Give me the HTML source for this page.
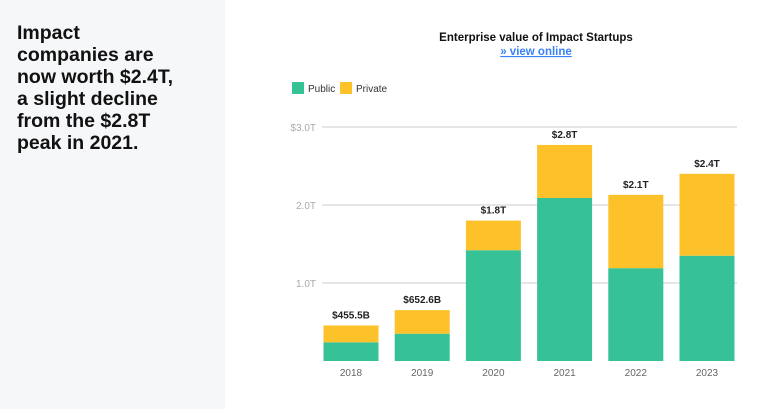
<!DOCTYPE html>
<html><head><meta charset="utf-8"><style>
body{margin:0;width:777px;height:409px;background:#fff;font-family:"Liberation Sans",sans-serif;overflow:hidden;position:relative}
#side{position:absolute;left:0;top:0;width:225px;height:409px;background:#f6f7f9}
#side h1{margin:0;position:absolute;left:17px;top:22px;font-size:19.5px;line-height:22px;font-weight:bold;color:#111;width:205px;white-space:nowrap}
</style></head><body>
<div id="side"><h1>Impact<br>companies are<br>now worth $2.4T,<br>a slight decline<br>from the $2.8T<br>peak in 2021.</h1></div>
<svg id="chart" width="777" height="409" style="position:absolute;left:0;top:0">
<text x="536" y="41" text-anchor="middle" font-size="11.5" font-weight="bold" fill="#111">Enterprise value of Impact Startups</text>
<text x="536" y="55" text-anchor="middle" font-size="11.5" font-weight="bold" fill="#3b82f6" text-decoration="underline">» view online</text>
<rect x="292" y="82" width="12" height="12" fill="#36c296"/>
<text x="308" y="92" font-size="10" fill="#333">Public</text>
<rect x="340" y="82" width="12" height="12" fill="#fdc22a"/>
<text x="356" y="92" font-size="10" fill="#333">Private</text>
<g id="g"></g>
</svg>
<script>
const years=["2018","2019","2020","2021","2022","2023"];
const publicVals=[0.24,0.35,1.42,2.09,1.19,1.35];
const totalVals=[0.4555,0.6526,1.8,2.77,2.13,2.40];
const totalLabels=["$455.5B","$652.6B","$1.8T","$2.8T","$2.1T","$2.4T"];
const ticks=[1,2,3];
const tickLabels=["1.0T","2.0T","$3.0T"];
const NS="http://www.w3.org/2000/svg",g=document.getElementById('g');
const y=v=>361-v*78, x=i=>351+i*71.2, bw=55;
function mk(t,a,txt){const e=document.createElementNS(NS,t);for(const k in a)e.setAttribute(k,a[k]);if(txt)e.textContent=txt;g.appendChild(e);return e;}
ticks.forEach((t,i)=>{
 let l=mk('line',{x1:322,x2:737,y1:y(t),y2:y(t),stroke:'#ddd','stroke-width':1.5});
 
 
 let tx=mk('text',{x:316,y:y(t)+4,'text-anchor':'end','font-size':10,fill:'#aaa'},tickLabels[i]);
 
 
});
years.forEach((yr,i)=>{
 let p=mk('rect',{x:x(i)-bw/2,y:y(publicVals[i]),width:bw,height:y(0)-y(publicVals[i]),fill:'#36c296'});
 
 
 let q=mk('rect',{x:x(i)-bw/2,y:y(totalVals[i]),width:bw,height:y(publicVals[i])-y(totalVals[i]),fill:'#fdc22a'});
 
 
 let v=mk('text',{x:x(i),y:y(totalVals[i])-7,'text-anchor':'middle','font-size':10,'font-weight':'bold',fill:'#222'},totalLabels[i]);
 
 
 let xl=mk('text',{x:x(i),y:376,'text-anchor':'middle','font-size':10,fill:'#666'},yr);
 
 
});
</script>
</body></html>
